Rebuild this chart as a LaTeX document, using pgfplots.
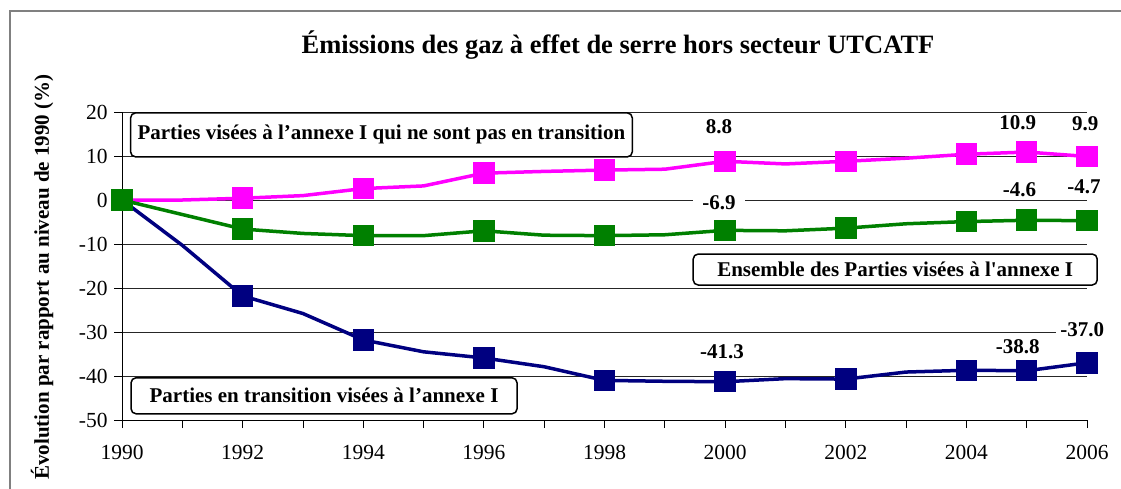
\documentclass[border=0pt]{standalone}
\usepackage{pgfplots}
\pgfplotsset{compat=1.18}
\usepackage{fontspec}
\setmainfont{Liberation Serif}

\definecolor{magenta2}{RGB}{255,0,255}
\definecolor{green2}{RGB}{0,128,0}
\definecolor{navy2}{RGB}{0,0,128}

\newcommand{\fs}{\fontsize{21}{24}\selectfont}

\begin{document}
\begin{tikzpicture}[x=1pt,y=1pt]
\useasboundingbox (0,0) rectangle (1121,-489);
% outer frame
\draw[gray, line width=1.5pt] (10,-489) -- (10,-11) -- (1121,-11);
% title and y label
\node[font=\fontsize{26.5}{30}\selectfont\bfseries] at (618,-45) {Émissions des gaz à effet de serre hors secteur UTCATF};
\node[font=\fs\bfseries, rotate=90] at (42,-277) {Évolution par rapport au niveau de 1990 (\%)};

\begin{axis}[
    at={(122pt,-420pt)}, anchor=south west,
    scale only axis, width=965pt, height=308pt,
    xmin=1990, xmax=2006, ymin=-50, ymax=20,
    axis lines*=left,
    axis line style={black, line width=0.8pt},
    xtick={1990,1992,...,2006},
    minor xtick={1991,1993,...,2005},
    ytick={-50,-40,...,20},
    tick align=outside,
    major tick length=8pt, minor tick length=8pt,
    tick style={black, line width=0.8pt},
    ymajorgrids,
    major grid style={black!85, line width=0.8pt},
    /pgf/number format/1000 sep={},
    /pgf/number format/assume math mode=true,
    ticklabel style={font=\fontsize{21.5}{24}\selectfont},
    xticklabel style={yshift=-14pt},
    yticklabel style={xshift=-3pt},
    clip=false,
    every axis plot/.append style={line width=3.5pt, mark=square*, mark size=9pt,
        mark indices={1,3,5,7,9,11,13,15,16,17}},
    nodes={font=\fs\bfseries},
]
% Parties en transition
\addplot[navy2, mark options={fill=navy2, draw=navy2}] coordinates {
    (1990,0) (1991,-10.3) (1992,-21.8) (1993,-25.8) (1994,-31.8) (1995,-34.5)
    (1996,-35.9) (1997,-37.9) (1998,-41.0) (1999,-41.2) (2000,-41.3) (2001,-40.6)
    (2002,-40.7) (2003,-39.1) (2004,-38.7) (2005,-38.8) (2006,-37.0)
};
% Parties non en transition
\addplot[magenta2, mark options={fill=magenta2, draw=magenta2}] coordinates {
    (1990,0) (1991,0.0) (1992,0.4) (1993,1.0) (1994,2.6) (1995,3.2)
    (1996,6.1) (1997,6.5) (1998,6.8) (1999,7.0) (2000,8.8) (2001,8.2)
    (2002,8.8) (2003,9.5) (2004,10.4) (2005,10.9) (2006,9.9)
};
% Ensemble
\addplot[green2, mark options={fill=green2, draw=green2}] coordinates {
    (1990,0) (1991,-3.3) (1992,-6.6) (1993,-7.6) (1994,-8.1) (1995,-8.1)
    (1996,-7.0) (1997,-8.0) (1998,-8.1) (1999,-7.9) (2000,-6.9) (2001,-7.0)
    (2002,-6.4) (2003,-5.4) (2004,-4.9) (2005,-4.6) (2006,-4.7)
};

% data labels
\node[fill=white, inner xsep=9pt, inner ysep=2pt] at (axis cs:1999.9,16.6) {8.8};
\node[fill=white, inner xsep=6pt, inner ysep=2pt] at (axis cs:2004.85,17.6) {10.9};
\node[fill=white, inner xsep=6pt, inner ysep=2pt] at (axis cs:2005.97,17.3) {9.9};
\node[fill=white, inner xsep=9pt, inner ysep=2pt] at (axis cs:1999.9,-0.6) {-6.9};
\node[fill=white, inner xsep=6pt, inner ysep=2pt] at (axis cs:2004.88,2.3) {-4.6};
\node[fill=white, inner xsep=4pt, inner ysep=2pt] at (axis cs:2005.95,3.1) {-4.7};
\node[fill=white, inner xsep=9pt, inner ysep=2pt] at (axis cs:1999.95,-34.4) {-41.3};
\node[fill=white, inner xsep=4pt, inner ysep=2pt] at (axis cs:2004.85,-33.3) {-38.8};
\node[fill=white, inner xsep=4pt, inner ysep=2pt] at (axis cs:2005.92,-29.5) {-37.0};

% series boxes
\node[draw=black, fill=white, line width=1.5pt, rounded corners=5pt, anchor=west,
      inner xsep=7pt, minimum height=44pt] at (axis cs:1990.13,14.8)
      {Parties visées à l’annexe I qui ne sont pas en transition};
\node[draw=black, fill=white, line width=1.5pt, rounded corners=5pt,
      inner xsep=10pt, minimum height=31pt, minimum width=404pt] at (axis cs:2002.82,-15.8)
      {Ensemble des Parties visées à l\textquotesingle annexe I};
\node[draw=black, fill=white, line width=1.5pt, rounded corners=5pt,
      inner xsep=7pt, minimum height=36pt, minimum width=386pt] at (axis cs:1993.35,-44.5)
      {Parties en transition visées à l’annexe I};
\end{axis}
\end{tikzpicture}
\end{document}
